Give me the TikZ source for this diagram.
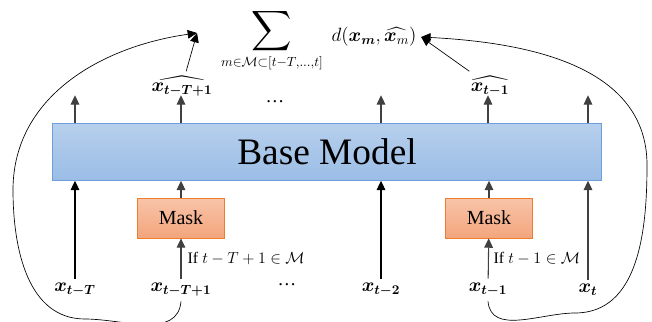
\documentclass[tikz,border=0pt]{standalone}
\usepackage{amsmath, amssymb}
\usepackage{fontspec}
\setmainfont{Liberation Serif}
\usetikzlibrary{arrows.meta}

\definecolor{baseTop}{HTML}{B6CFEC}
\definecolor{baseBot}{HTML}{9BBDE6}
\definecolor{baseLine}{HTML}{6F9FDA}
\definecolor{maskTop}{HTML}{F8C4A9}
\definecolor{maskBot}{HTML}{F3A57D}
\definecolor{maskLine}{HTML}{ED7D31}

\tikzset{
  arr/.style={line width=0.8pt, -{Triangle[length=7pt,width=6.5pt]}},
  loopline/.style={line width=0.5pt, -{Triangle[length=7pt,width=6.5pt]}},
  basebox/.style={draw=baseLine, line width=0.6pt, top color=baseTop, bottom color=baseBot,
    minimum width=412pt, minimum height=42.5pt, font=\fontsize{28}{30}\selectfont},
  maskbox/.style={draw=maskLine, line width=0.6pt, top color=maskTop, bottom color=maskBot,
    minimum width=65pt, minimum height=30pt, font=\fontsize{15}{17}\selectfont},
  seq/.style={font=\fontsize{14}{16}\selectfont},
  cond/.style={font=\fontsize{12}{14}\selectfont, anchor=west, inner sep=1pt}
}

\begin{document}
\begin{tikzpicture}[x=0.75pt, y=-0.75pt]
\useasboundingbox (0,0) rectangle (652,321);

% model and masks
\node[basebox] (base) at (327,152) {Base Model};
\node[maskbox] (maskA) at (181,218) {Mask};
\node[maskbox] (maskB) at (489,218) {Mask};

% inputs
\node[seq] (xT) at (75,290) {$\boldsymbol{x_{t-T}}$};
\node[seq] (xT1) at (181,290) {$\boldsymbol{x_{t-T+1}}$};
\node[seq] (dotsB) at (287,285) {\dots};
\node[seq] (x2) at (381,290) {$\boldsymbol{x_{t-2}}$};
\node[seq] (x1) at (488,290) {$\boldsymbol{x_{t-1}}$};
\node[seq] (x0) at (588,290) {$\boldsymbol{x_{t}}$};

% outputs and loss
\node[seq] (hT1) at (182,86) {$\widehat{\boldsymbol{x_{t-T+1}}}$};
\node[seq] (h1) at (490,86) {$\widehat{\boldsymbol{x_{t-1}}}$};
\node[seq] (dotsT) at (275,102) {\dots};
\node[seq, inner sep=0pt, anchor=north] (sumexp) at (272,8)
  {$\displaystyle\mathop{\text{\fontsize{21}{23}\selectfont$\displaystyle\sum$}}\limits_{m\in\mathcal{M}\subset[t-T,\dots,t]}$};
\node[seq] (dterm) at (374,37) {$d(\boldsymbol{x_m},\widehat{\boldsymbol{x}_m})$};
\coordinate (lossL) at (197,33);

% input arrows
\draw[arr] (xT) -- (xT |- base.south);
\draw[arr] (x2) -- (x2 |- base.south);
\draw[arr, black!75] (x0) -- (x0 |- base.south);
\draw[arr, black!75] (xT1) -- (maskA);
\draw[arr, black!75] (maskA) -- (maskA |- base.south);
\draw[arr, black!75] (x1) -- (maskB);
\draw[arr, black!75] (maskB) -- (maskB |- base.south);
\node[cond] (condA) at (186,259) {If $t-T+1\in\mathcal{M}$};
\node[cond] (condB) at (492,259) {If $t-1\in\mathcal{M}$};

% output arrows
\foreach \n in {xT,xT1,x2,x1,x0}
  \draw[arr, black!75] (base.north -| \n) -- ++(0,-28);
\draw[loopline] (hT1) -- (lossL);
\draw[loopline] (h1) -- (dterm.east);

% loops back to the loss
\draw[loopline] (xT1.south) to[out=-95,in=0] (85,319) to[out=180,in=-90] (13,190)
  to[out=90,in=188] (lossL);
\draw[loopline] (x1.south) to[out=-85,in=180] (575,313) to[out=0,in=-90] (647,165)
  to[out=90,in=-3] (dterm.east);
\end{tikzpicture}
\end{document}
